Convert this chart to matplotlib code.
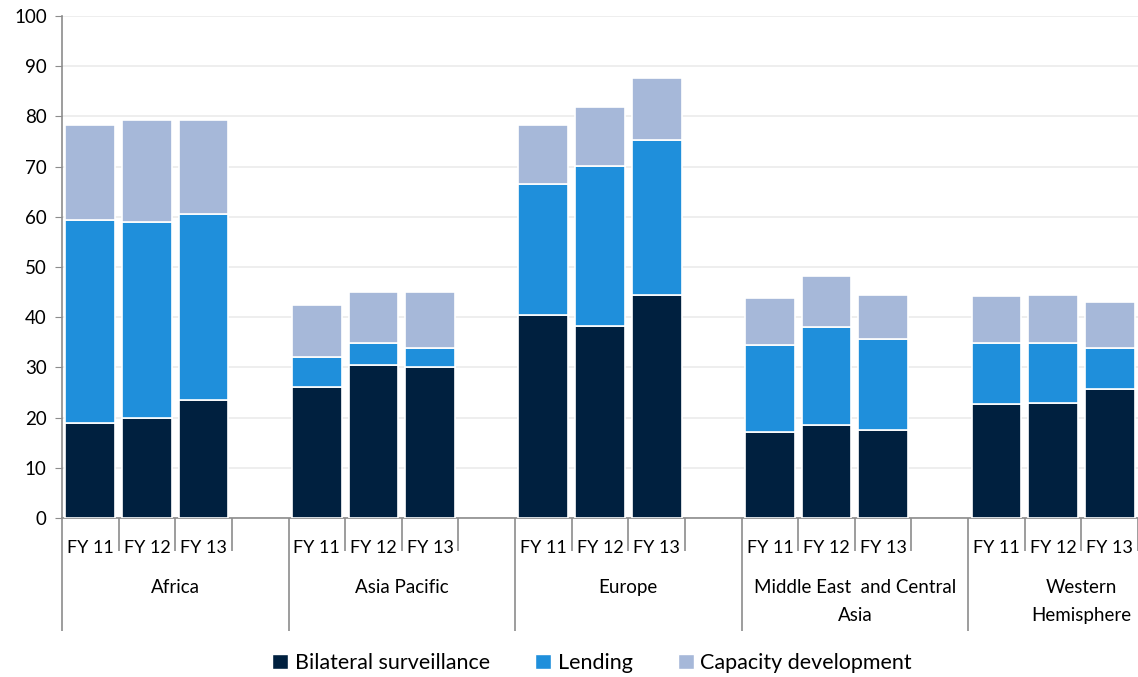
import matplotlib.pyplot as plt
import matplotlib.transforms as mtransforms
from matplotlib.patches import Patch

regions = ["Africa", "Asia Pacific", "Europe", "Middle East  and Central\nAsia", "Western\nHemisphere"]
years = ["FY 11", "FY 12", "FY 13"]

# per region: FY11, FY12, FY13
bilateral = [
    [19.0, 20.0, 23.6],
    [26.0, 30.5, 30.0],
    [40.5, 38.3, 44.5],
    [17.2, 18.5, 17.5],
    [22.7, 23.0, 25.6],
]
lending = [
    [40.3, 39.0, 37.0],
    [6.0, 4.3, 3.8],
    [26.0, 31.9, 30.8],
    [17.3, 19.5, 18.2],
    [12.1, 11.8, 8.2],
]
capacity = [
    [18.9, 20.3, 18.7],
    [10.5, 10.2, 11.2],
    [11.7, 11.6, 12.3],
    [9.3, 10.3, 8.8],
    [9.4, 9.7, 9.2],
]

series_names = ["Bilateral surveillance", "Lending", "Capacity development"]
colors = ["#00203F", "#1F8FDB", "#A6B8D9"]

plt.rcParams["font.family"] = ["Lato", "DejaVu Sans"]

fig = plt.figure(figsize=(11.38, 6.77), dpi=100)
ax = fig.add_axes([62 / 1138, 1 - 518 / 677, (1138 - 62) / 1138, (518 - 16) / 677])

grey = "#8C8C8C"
for g in range(len(regions)):
    for i in range(len(years)):
        x = g * 4 + i + 0.5
        b = bilateral[g][i]
        l = lending[g][i]
        c = capacity[g][i]
        ax.bar(x, b, width=0.88, color=colors[0], edgecolor="white", linewidth=1.2, zorder=3)
        ax.bar(x, l, bottom=b, width=0.88, color=colors[1], edgecolor="white", linewidth=1.2, zorder=3)
        ax.bar(x, c, bottom=b + l, width=0.88, color=colors[2], edgecolor="white", linewidth=1.2, zorder=3)

ax.set_xlim(0, 1076 / 56.875)
ax.set_ylim(0, 100)
ax.set_yticks(range(0, 101, 10))
ax.tick_params(axis="y", direction="out", length=5, color=grey, labelsize=13.5, pad=6)
ax.yaxis.grid(True, color="#EBEBEB", linewidth=1.2, zorder=0)

# category axis: short ticks between years, long ones between regions
ax.set_xticks([g * 4 for g in range(len(regions))])
ax.set_xticks([k for k in range(20) if k % 4 != 0], minor=True)
ax.tick_params(axis="x", which="major", direction="out", length=81, color=grey, width=1.2, labelbottom=False)
ax.tick_params(axis="x", which="minor", direction="out", length=24, color=grey, width=1.2, labelbottom=False)

trans = mtransforms.blended_transform_factory(ax.transData, ax.transAxes)
for g, name in enumerate(regions):
    for i, yr in enumerate(years):
        ax.text(g * 4 + i + 0.5, -0.06, yr, transform=trans, ha="center", va="center", fontsize=13)
    ax.text(g * 4 + 2, -0.122, name, transform=trans, ha="center", va="top", fontsize=13.5, linespacing=1.75)

for side in ["top", "right"]:
    ax.spines[side].set_visible(False)
ax.spines["left"].set_color(grey)
ax.spines["bottom"].set_color(grey)
ax.spines["left"].set_linewidth(1.2)
ax.spines["bottom"].set_linewidth(1.2)

handles = [Patch(facecolor=c, edgecolor="white", label=n) for c, n in zip(colors, series_names)]
fig.legend(handles=handles, loc="center", bbox_to_anchor=(592 / 1138, 1 - 663 / 677), ncol=3,
           frameon=False, fontsize=15.5, handlelength=0.75, handleheight=0.75, handletextpad=0.3,
           columnspacing=2.1)

fig.savefig("out.png", dpi=100)
